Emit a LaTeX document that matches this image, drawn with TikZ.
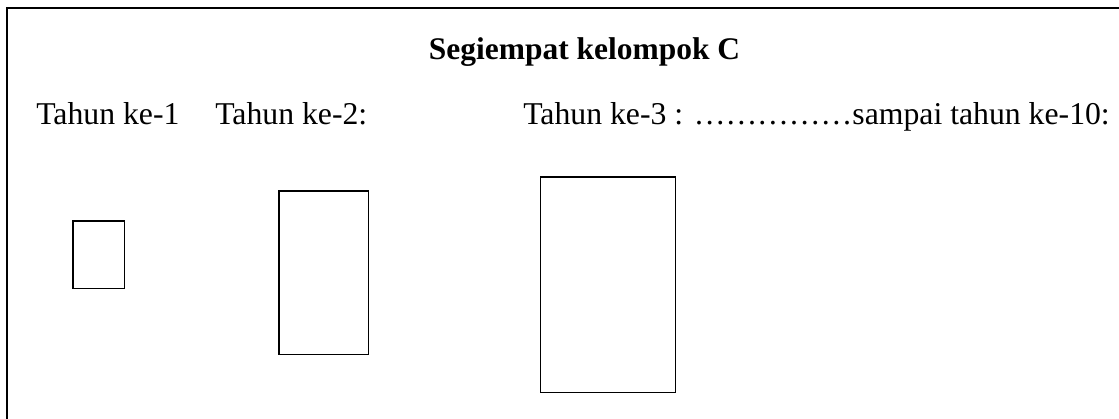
\documentclass[tikz,border=0pt]{standalone}
\usepackage{fontspec}
\setmainfont{Liberation Serif}
\begin{document}
\begin{tikzpicture}[x=0.75pt,y=-0.75pt,
  frame/.style={line width=1.5pt},
  box/.style={draw,line width=1.4pt,inner sep=0pt,outer sep=0pt,anchor=north west},
  lbl/.style={inner sep=0pt,anchor=base west,font=\fontsize{23.8}{28}\selectfont},
  ttl/.style={inner sep=0pt,anchor=base,font=\fontsize{23.6}{28}\selectfont\bfseries}]
\useasboundingbox (0,0) rectangle (1119,418);
\clip (0,0) rectangle (1119,418);
\draw[frame] (7,8) rectangle (1130,430);
\node[ttl] (title) at (584.5,59) {Segiempat kelompok C};
\node[lbl] (t1) at (36,124) {Tahun ke-1};
\node[lbl] (t2) at (215,124) {Tahun ke-2:};
\node[lbl] (t3) at (523,124) {Tahun ke-3 : ……………sampai tahun ke-10:};
\node[box,minimum width=38.6pt,minimum height=50.6pt] (r1) at (73,221) {};
\node[box,minimum width=67.1pt,minimum height=122.6pt] (r2) at (279,191) {};
\node[box,minimum width=101.25pt,minimum height=161.6pt] (r3) at (540.5,177) {};
\end{tikzpicture}
\end{document}
